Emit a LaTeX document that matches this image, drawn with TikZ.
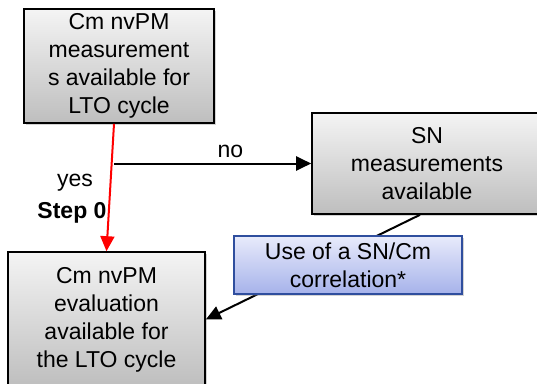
\documentclass[tikz,border=0pt]{standalone}
\usepackage{fontspec}
\setmainfont{Liberation Sans}
\usetikzlibrary{arrows.meta}
\usetikzlibrary{shadows}
\usetikzlibrary{positioning}

\definecolor{boxtop}{HTML}{F4F4F4}
\definecolor{boxbot}{HTML}{BEBEBE}
\definecolor{bluetop}{HTML}{E8EBFB}
\definecolor{bluebot}{HTML}{A6B2EA}
\definecolor{blueedge}{HTML}{2F4E9E}

\tikzset{
    graybox/.style={draw, line width=1.6pt, top color=boxtop, bottom color=boxbot,
        align=center, inner sep=0pt,
        drop shadow={shadow xshift=2pt, shadow yshift=-2pt, opacity=0.35}},
    bluebox/.style={draw=blueedge, line width=1.6pt, top color=bluetop, bottom color=bluebot,
        align=center, inner sep=0pt,
        drop shadow={shadow xshift=2pt, shadow yshift=-2pt, opacity=0.35}},
    link/.style={line width=2pt, -{Triangle[width=14pt,length=15pt]}},
    txt/.style={font=\fontsize{23}{28}\selectfont}
}

\begin{document}
\begin{tikzpicture}[x=1pt, y=-1pt, txt]
    \useasboundingbox (0,0) rectangle (537,383);
    % Cm measurement box at top left
    \node[graybox, minimum width=190pt, minimum height=114pt] (meas) at (119,66)
        {Cm nvPM\\measurement\\s available for\\LTO cycle};
    % result box at bottom left (cut by the page edge)
    \node[graybox, minimum width=197pt, minimum height=135pt] (eval) at (106.5,319.5)
        {Cm nvPM\\evaluation\\available for\\the LTO cycle};
    % SN box at right
    \node[graybox, minimum width=230pt, minimum height=101pt] (sn) at (427,163.5)
        {SN\\measurements\\available};
    % branch point on the red line
    \coordinate (branch) at (114,163.5);
    % yes path: red arrow straight down
    \draw[link, red] ([xshift=-5pt]meas.south) -- (eval.north);
    % no path: to the SN box
    \draw[link] (branch) -- (sn.west) node[pos=0.59, above=1pt] {no};
    % SN box down to the result box
    \draw[link] ([xshift=-7pt]sn.south) -- (eval.east);
    % labels of the yes path
    \node (yes) at (75,183) {yes};
    \node[font=\fontsize{23}{28}\selectfont\bfseries] (step) at (72,213) {Step 0};
    % correlation box on top of the line
    \node[bluebox, minimum width=228pt, minimum height=58pt] (corr) at (348,265)
        {Use of a SN/Cm\\correlation*};
\end{tikzpicture}
\end{document}
